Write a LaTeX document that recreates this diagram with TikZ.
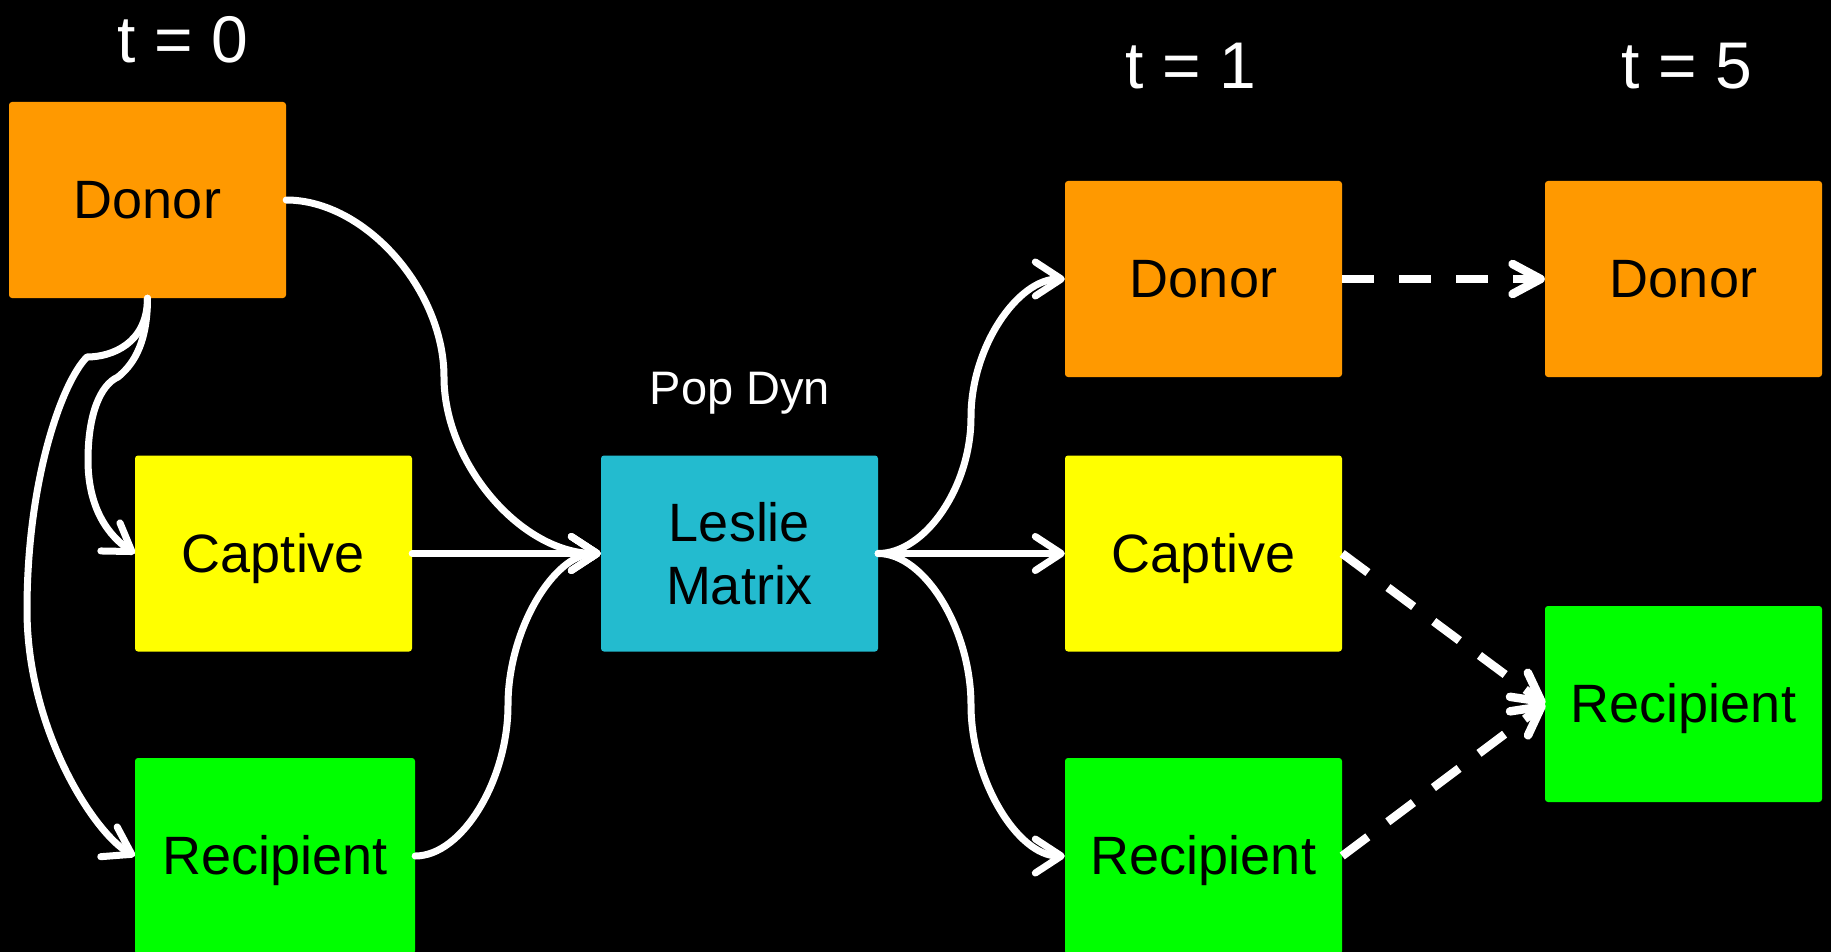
\documentclass[tikz,border=0pt]{standalone}
\usepackage{fontspec}
\setmainfont{Liberation Sans}
\usetikzlibrary{arrows.meta}
\definecolor{donorc}{RGB}{255,153,0}
\definecolor{captc}{RGB}{255,255,0}
\definecolor{recc}{RGB}{0,255,0}
\definecolor{lesc}{RGB}{35,187,207}
\tikzset{
  box/.style={rectangle, rounded corners=3pt, minimum width=277pt, minimum height=196pt,
    inner sep=0pt, align=center, text=black, font=\fontsize{54}{63}\selectfont},
  oneline/.style={text height=48.9pt, text depth=11.4pt},
  flow/.style={draw=white, line width=7pt, line cap=round, line join=round,
    -{Straight Barb[length=26pt,width=34pt,line cap=round,line join=round]}},
  later/.style={draw=white, line width=8.5pt, dash pattern=on 32pt off 25pt,
    -{Straight Barb[length=28pt,width=30pt,line cap=round,line join=round]}},
  tlabel/.style={text=white, inner sep=0pt, font=\fontsize{66}{70}\selectfont},
}
\begin{document}
\begin{tikzpicture}[x=1pt,y=-1pt]
\useasboundingbox (0,0) rectangle (1831,952);
\fill[black] (0,0) rectangle (1831,952);

\node[tlabel] (t0) at (183,40) {t = 0};
\node[tlabel] (t1) at (1191,66) {t = 1};
\node[tlabel] (t5) at (1687,66) {t = 5};
\node[text=white, inner sep=0pt, text height=42.5pt, text depth=10pt, font=\fontsize{47}{50}\selectfont] (pd) at (740,388) {Pop Dyn};

\node[box, oneline, fill=donorc] (d0) at (147.5,200) {Donor};
\node[box, oneline, fill=captc] (c0) at (273.5,553.5) {Captive};
\node[box, oneline, fill=recc, minimum width=280pt] (r0) at (275,856) {Recipient};
\node[box, fill=lesc] (les) at (739.5,553.5) {Leslie\\Matrix};
\node[box, oneline, fill=donorc] (d1) at (1203.5,279) {Donor};
\node[box, oneline, fill=captc] (c1) at (1203.5,553.5) {Captive};
\node[box, oneline, fill=recc] (r1) at (1203.5,856) {Recipient};
\node[box, oneline, fill=donorc] (d5) at (1683.5,279) {Donor};
\node[box, oneline, fill=recc] (r5) at (1683.5,704) {Recipient};

\coordinate (m1) at (444,377);
\coordinate (m3) at (508,705);
\coordinate (k1) at (118,377);
\coordinate (k2) at (88,460);
\coordinate (k3) at (87,357);
\coordinate (k4) at (27,610);
\coordinate (m6) at (971,417);
\coordinate (m8) at (971,705);

% left side into Leslie
\draw[flow] (d0.east) .. controls +(79,0) and +(0,-87) .. (m1)
  .. controls +(0,87) and +(-79,0) .. (les.west);
\draw[flow] (c0.east) -- (les.west);
\draw[flow] (r0.east) .. controls +(47,0) and +(0,75) .. (m3)
  .. controls +(0,-75) and +(-47,0) .. (les.west);

% donor to captive / recipient
\draw[flow] (d0.south) .. controls +(0,50) and +(12,-10) .. (k1)
  .. controls +(-18,8) and +(0,-45) .. (k2)
  .. controls +(0,50) and +(-25,-17) .. (c0.west);
\draw[flow] (d0.south) .. controls +(0,45) and +(25,0) .. (k3)
  .. controls +(-25,25) and +(0,-130) .. (k4)
  .. controls +(0,120) and +(-40,-22) .. (r0.west);

% Leslie out
\draw[flow] (les.east) .. controls +(47,0) and +(0,70) .. (m6)
  .. controls +(0,-70) and +(-47,0) .. (d1.west);
\draw[flow] (les.east) -- (c1.west);
\draw[flow] (les.east) .. controls +(47,0) and +(0,-75) .. (m8)
  .. controls +(0,75) and +(-47,0) .. (r1.west);

% to t = 5
\draw[later] (d1.east) -- (d5.west);
\draw[later] (c1.east) -- (r5.west);
\draw[later] (r1.east) -- (r5.west);
\end{tikzpicture}
\end{document}
